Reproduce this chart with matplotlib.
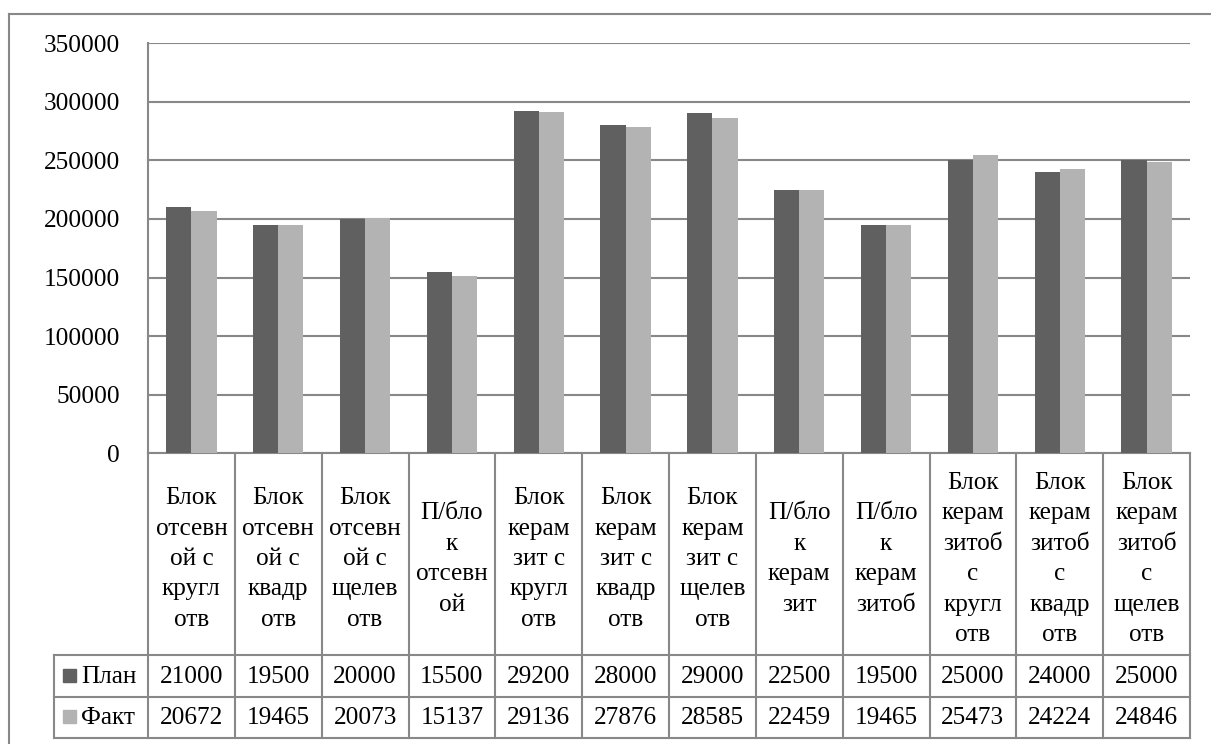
import numpy as np
import matplotlib
matplotlib.use('Agg')
import matplotlib.pyplot as plt
from matplotlib.patches import Rectangle

matplotlib.rcParams['font.family'] = ['Liberation Serif', 'DejaVu Serif']
matplotlib.rcParams['font.size'] = 18.2

# categories (wrapped as in the table cells)
categories = [
    ['Блок', 'отсевн', 'ой с', 'кругл', 'отв'],
    ['Блок', 'отсевн', 'ой с', 'квадр', 'отв'],
    ['Блок', 'отсевн', 'ой с', 'щелев', 'отв'],
    ['П/бло', 'к', 'отсевн', 'ой'],
    ['Блок', 'керам', 'зит с', 'кругл', 'отв'],
    ['Блок', 'керам', 'зит с', 'квадр', 'отв'],
    ['Блок', 'керам', 'зит с', 'щелев', 'отв'],
    ['П/бло', 'к', 'керам', 'зит'],
    ['П/бло', 'к', 'керам', 'зитоб'],
    ['Блок', 'керам', 'зитоб', 'с', 'кругл', 'отв'],
    ['Блок', 'керам', 'зитоб', 'с', 'квадр', 'отв'],
    ['Блок', 'керам', 'зитоб', 'с', 'щелев', 'отв'],
]
plan = [210000, 195000, 200000, 155000, 292000, 280000, 290000,
        225000, 195000, 250000, 240000, 250000]
fact = [206720, 194650, 200730, 151370, 291360, 278760, 285850,
        224590, 194650, 254730, 242240, 248460]
series_names = ['План', 'Факт']
yticks = [0, 50000, 100000, 150000, 200000, 250000, 300000, 350000]

c_plan = '#606060'
c_fact = '#b3b3b3'
c_line = '#888888'

W, H = 1211, 744
fig = plt.figure(figsize=(W / 100, H / 100), dpi=100)

# pixel layout of the plot area and data table
x0, x1 = 148, 1190
y_top, y_zero = 43, 453.5
y_row1, y_row2, y_bot = 655, 697, 738
x_leg = 54
n = len(categories)
cw = (x1 - x0) / n

ax = fig.add_axes([x0 / W, 1 - y_zero / H, (x1 - x0) / W, (y_zero - y_top) / H])
x = np.arange(n)
ax.bar(x - 0.145, plan, width=0.29, color=c_plan, zorder=3)
ax.bar(x + 0.145, fact, width=0.29, color=c_fact, zorder=3)
ax.set_xlim(-0.5, n - 0.5)
ax.set_ylim(0, 350000)
ax.set_yticks(yticks)
ax.set_yticklabels([str(v) for v in yticks])
ax.set_xticks([])
ax.tick_params(axis='y', length=0, pad=20)
ax.grid(axis='y', color=c_line, lw=1.5, zorder=0)
for s in ['top', 'right']:
    ax.spines[s].set_visible(False)
for s in ['left', 'bottom']:
    ax.spines[s].set_color(c_line)
    ax.spines[s].set_linewidth(1.5)

# overlay in pixel coordinates for the data table and frame
ov = fig.add_axes([0, 0, 1, 1], zorder=-1)
ov.set_xlim(0, W)
ov.set_ylim(H, 0)
ov.axis('off')

lk = dict(color=c_line, lw=1.5, solid_capstyle='projecting')
# outer chart frame
ov.plot([9, 9], [14, H], **lk)
ov.plot([9, W], [14, 14], **lk)

# table grid
for yy in [y_row1, y_row2, y_bot]:
    ov.plot([x_leg, x1], [yy, yy], **lk)
ov.plot([x_leg, x_leg], [y_row1, y_bot], **lk)
for i in range(n + 1):
    ov.plot([x0 + i * cw, x0 + i * cw], [y_zero, y_bot], **lk)

# category labels
y_mid = 559
lstep = 30.4
for i, lines in enumerate(categories):
    cx = x0 + (i + 0.5) * cw
    for j, t in enumerate(lines):
        yy = y_mid + (j - (len(lines) - 1) / 2) * lstep
        ov.text(cx, yy, t, ha='center', va='center')

# value rows with legend keys
for r, (name, vals, col) in enumerate(zip(series_names, [plan, fact], [c_plan, c_fact])):
    yc = [677, 718][r]
    ov.add_patch(Rectangle((63, yc - 8), 13, 13, color=col))
    ov.text(81, yc, name, ha='left', va='center')
    for i, v in enumerate(vals):
        ov.text(x0 + (i + 0.5) * cw, yc, str(v // 10), ha='center', va='center')

plt.savefig('out.png', dpi=100)
